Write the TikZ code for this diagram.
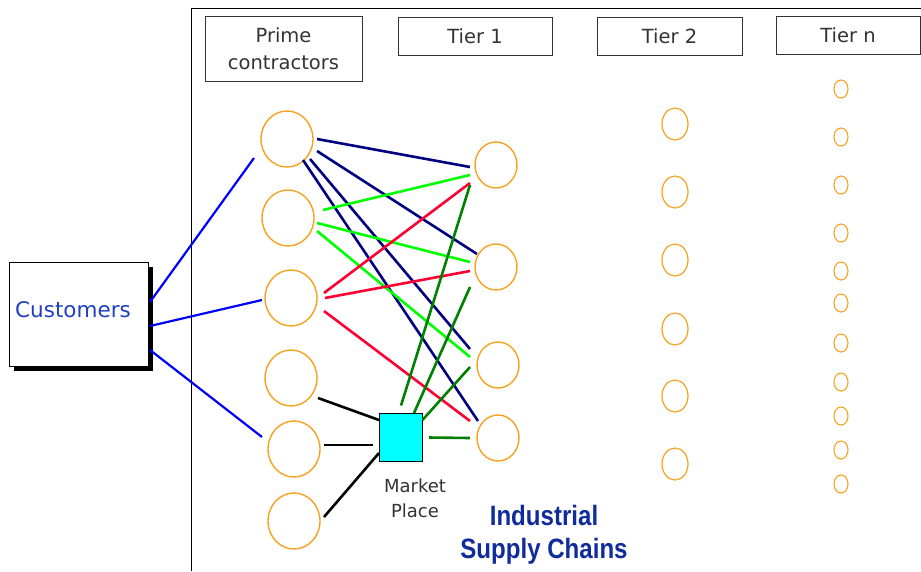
\documentclass[tikz,border=0pt]{standalone}
\usepackage{fontspec}
\setmainfont{DejaVu Sans}
\newfontfamily\indfont[FakeStretch=0.86]{Liberation Sans}
\usetikzlibrary{shapes.geometric,calc}
\definecolor{orng}{HTML}{F7A21E}
\definecolor{navyl}{HTML}{000080}
\definecolor{brgreen}{HTML}{00FF00}
\definecolor{redl}{HTML}{FF0033}
\definecolor{dkgreen}{HTML}{008000}
\definecolor{custblue}{HTML}{0000FF}
\definecolor{custtext}{HTML}{2040C0}
\definecolor{indblue}{HTML}{102C9C}
\definecolor{txtgray}{HTML}{333333}
\definecolor{mpcyan}{HTML}{00FFFF}
\begin{document}
\begin{tikzpicture}[x=1pt,y=-1pt,
  hdr/.style={draw=txtgray, line width=0.8pt, text=txtgray, align=center, inner sep=0pt,
    font=\fontsize{19.5}{27}\selectfont},
  bigc/.style={draw=orng, line width=1.4pt, ellipse, inner sep=0pt, minimum width=52, minimum height=56},
  midc/.style={draw=orng, line width=1.4pt, ellipse, inner sep=0pt, minimum width=42, minimum height=46},
  smlc/.style={draw=orng, line width=1.2pt, ellipse, inner sep=0pt, minimum width=26, minimum height=32},
  tinyc/.style={draw=orng, line width=1.1pt, ellipse, inner sep=0pt, minimum width=14, minimum height=18},
  link/.style={line width=2.6pt},
  clink/.style={line width=2.2pt, draw=custblue}]
\useasboundingbox (0,0) rectangle (921,571);
% frame
\draw[line width=0.9pt] (191,571) -- (191,8) -- (921,8);
% headers
\node[hdr, minimum width=157, minimum height=65] (hp) at (283.5,48.5) {Prime\\contractors};
\node[hdr, minimum width=154, minimum height=38] (h1) at (475,36) {Tier 1};
\node[hdr, minimum width=145, minimum height=38] (h2) at (669.5,36) {Tier 2};
\node[hdr, minimum width=144, minimum height=38] (hn) at (848,35) {Tier n};
% customers
\fill (14,267) rectangle (153,371);
\node[draw, fill=white, line width=0.8pt, minimum width=139, minimum height=104, inner sep=0pt] (cust) at (78.5,314) {};
\node[anchor=west, text=custtext, font=\fontsize{21.5}{24}\selectfont, inner sep=0pt] (custlbl) at (15,310) {Customers};
% prime contractors
\node[bigc] (p1) at (287,139) {};
\node[bigc] (p2) at (288,218) {};
\node[bigc] (p3) at (291,298) {};
\node[bigc] (p4) at (291,378) {};
\node[bigc] (p5) at (294,449) {};
\node[bigc] (p6) at (294,521) {};
% tier 1
\node[midc] (t1) at (496,165) {};
\node[midc] (t2) at (496,267) {};
\node[midc] (t3) at (498,365) {};
\node[midc] (t4) at (498,438) {};
% tier 2
\foreach \y [count=\i] in {124,192,260,329,396,464}
  \node[smlc] (s\i) at (675,\y) {};
% tier n
\foreach \y [count=\i] in {89,137,185,233,271,303,343,382,416,450,484}
  \node[tinyc] (n\i) at (841,\y) {};
% market place
\node[draw, fill=mpcyan, line width=1pt, minimum width=43, minimum height=48, inner sep=0pt] (mp) at (400.5,437.5) {};
\node[text=txtgray, align=center, font=\fontsize{18}{25}\selectfont, inner sep=0pt] (mplbl) at (415,498) {Market\\Place};
% title
\node[text=indblue, align=center, font=\indfont\bfseries\fontsize{28}{33}\selectfont, inner sep=0pt] (title) at (544,535) {Industrial\\Supply Chains};
% customer links
\draw[clink] ($(cust)+(71.5,-12)$) -- ($(p1)+(-33,19)$);
\draw[clink] ($(cust)+(71.5,12)$) -- ($(p3)+(-29,2)$);
\draw[clink] ($(cust)+(71.5,36)$) -- ($(p5)+(-32,-12)$);
% navy
\draw[link, navyl] ($(p1)+(30,0)$) -- ($(t1)+(-26,2)$);
\draw[link, navyl] ($(p1)+(30,12)$) -- ($(t2)+(-19,-13)$);
\draw[link, navyl] ($(p1)+(16,21)$) -- ($(t4)+(-20,-17)$);
\draw[link, navyl] ($(p1)+(23,20)$) -- ($(t3)+(-28,-16)$);
% bright green
\draw[link, brgreen] ($(p2)+(35,-8)$) -- ($(t1)+(-26,10)$);
\draw[link, brgreen] ($(p2)+(29,5)$) -- ($(t2)+(-26,-5)$);
\draw[link, brgreen] ($(p2)+(29,13)$) -- ($(t3)+(-28,-8)$);
% red
\draw[link, redl] ($(p3)+(33,-5)$) -- ($(t1)+(-26,18)$);
\draw[link, redl] ($(p3)+(34,0)$) -- ($(t2)+(-26,4)$);
\draw[link, redl] ($(p3)+(33,13)$) -- ($(t4)+(-28,-17)$);
% dark green from market place
\draw[link, dkgreen] ($(mp)+(0.5,-32)$) -- ($(t1)+(-26,20)$);
\draw[link, dkgreen] ($(mp)+(13.5,-24.5)$) -- ($(t2)+(-26,20)$);
\draw[link, dkgreen] ($(mp)+(22,-17.5)$) -- ($(t3)+(-28,2)$);
\draw[link, dkgreen] ($(mp)+(28.5,0)$) -- ($(t4)+(-28,0)$);
% black
\draw[link, black] ($(p4)+(27,20)$) -- ($(mp)+(-21.5,-17.5)$);
\draw[link, black] ($(p5)+(30,-4)$) -- ($(mp)+(-27.5,7.5)$);
\draw[link, black] ($(p6)+(30,-4)$) -- ($(mp)+(-21.5,15.5)$);
\end{tikzpicture}
\end{document}
